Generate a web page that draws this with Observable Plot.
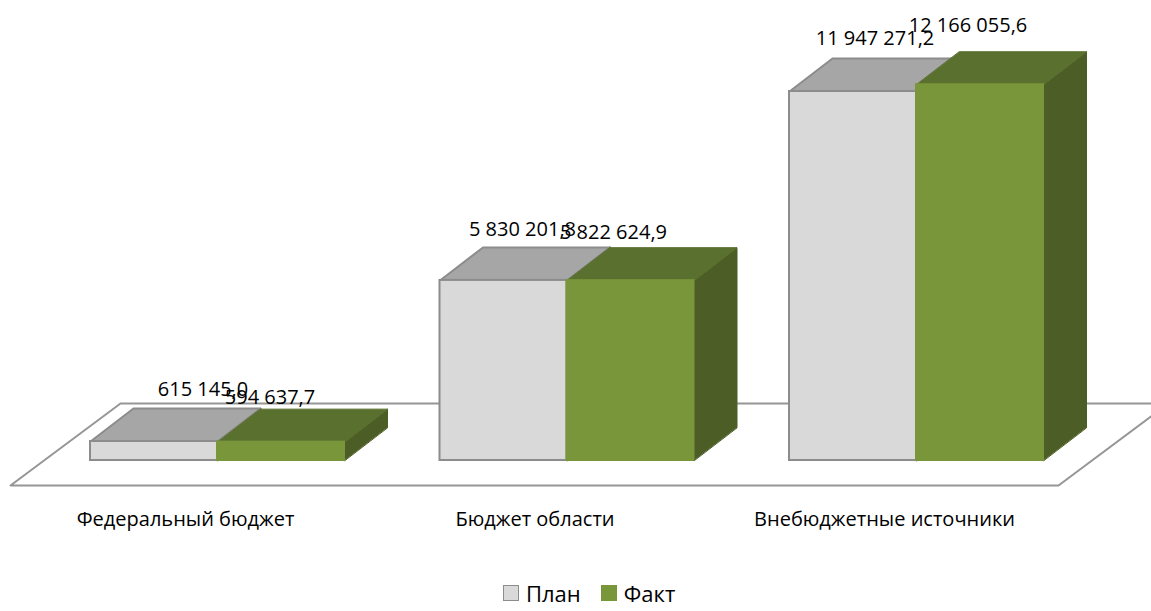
<!DOCTYPE html>
<html lang="ru">
<head>
<meta charset="utf-8">
<style>
html,body{margin:0;padding:0;background:#fff;overflow:hidden}
#chart svg{display:block}
#legend{height:36px;display:flex;justify-content:flex-start;align-items:center;padding-left:503px;font:22px "Open Sans",sans-serif;color:#000;box-sizing:border-box}
#legend span.sw{display:inline-block;width:14px;height:14px;margin-right:7px;box-sizing:content-box}
#legend .it{display:flex;align-items:center;margin-right:20px}
text{font-family:"Open Sans",sans-serif}
</style>
</head>
<body>
<div id="chart"></div>
<div id="legend"></div>
<script src="https://cdn.jsdelivr.net/npm/d3@7"></script>
<script src="https://cdn.jsdelivr.net/npm/@observablehq/plot@0.6"></script>
<script>
const categories = ["Федеральный бюджет", "Бюджет области", "Внебюджетные источники"];
const seriesNames = ["План", "Факт"];
const plan = [615145.0, 5830201.8, 11947271.2];
const fact = [594637.7, 5822624.9, 12166055.6];
const planLabels = ["615 145,0", "5 830 201,8", "11 947 271,2"];
const factLabels = ["594 637,7", "5 822 624,9", "12 166 055,6"];

// layout (x in category units, y in value units)
const W = 1151, H = 575;
const pxPerValue = 3.0886e-5, pxPerSlot = 349.5, x0Px = 217, y0Px = 460;
const barW = 127 / pxPerSlot, depthX = 43 / pxPerSlot, depthY = 33 / pxPerValue;
const px = p => (p - x0Px) / pxPerSlot;
const py = p => (y0Px - p) / pxPerValue;

const styles = [
  {front: "#d9d9d9", top: "#a6a6a6", side: "#8f8f8f", stroke: "#8c8c8c"},
  {front: "#7a963a", top: "#5a702e", side: "#4c5e26", stroke: "#7a963a"}
];
const labelDy = [[-52, -51, -53], [-45, -48, -59]];
const labelDx = [[49, 19, 22], [-11, -17, -12]];

function bars(values, s) {
  const items = values.map((v, i) => ({
    x1: i + (s === 0 ? -barW : 0), x2: i + (s === 0 ? 0 : barW), v, i
  }));
  const top = items.flatMap(d => [
    {x: d.x1, y: d.v, z: d.i}, {x: d.x2, y: d.v, z: d.i},
    {x: d.x2 + depthX, y: d.v + depthY, z: d.i}, {x: d.x1 + depthX, y: d.v + depthY, z: d.i}
  ]);
  const side = items.flatMap(d => [
    {x: d.x2, y: 0, z: d.i}, {x: d.x2, y: d.v, z: d.i},
    {x: d.x2 + depthX, y: d.v + depthY, z: d.i}, {x: d.x2 + depthX, y: depthY, z: d.i}
  ]);
  const st = styles[s];
  const common = {x: "x", y: "y", z: "z", curve: "linear-closed"};
  return [
    Plot.line(side, {...common, fill: st.side, stroke: s === 0 ? st.stroke : st.side, strokeWidth: s === 0 ? 2 : 1}),
    Plot.line(top, {...common, fill: st.top, stroke: s === 0 ? "#8c8c8c" : st.top, strokeWidth: s === 0 ? 2 : 1}),
    Plot.rect(items, {x1: "x1", x2: "x2", y1: 0, y2: "v", fill: st.front, stroke: st.stroke, strokeWidth: 2})
  ];
}

const floor = [
  {x: px(10), y: py(485)}, {x: px(1058), y: py(485)},
  {x: px(1168), y: py(403)}, {x: px(120), y: py(403)}
];

const labelRows = s => (s === 0 ? plan : fact).map((v, i) => ({
  i, v, text: (s === 0 ? planLabels : factLabels)[i],
  x: i + (s === 0 ? -barW / 2 : barW / 2) + labelDx[s][i] / pxPerSlot,
  y: v + (-labelDy[s][i]) / pxPerValue
}));

const fs = 20;
const chart = Plot.plot({
  width: W, height: H,
  marginTop: 0, marginBottom: 0, marginLeft: 0, marginRight: 0,
  x: {domain: [px(0), px(W)], range: [0, W], axis: null},
  y: {domain: [py(H), py(0)], range: [H, 0], axis: null},
  marks: [
    Plot.line(floor, {x: "x", y: "y", curve: "linear-closed", fill: "#fff", stroke: "#969696", strokeWidth: 2, clip: "frame"}),
    ...bars(plan, 0),
    ...bars(fact, 1),
    ...[0, 1].map(s => Plot.text(labelRows(s), {
      x: "x", y: "y", text: "text", fontSize: fs, fill: "#000", textAnchor: "middle", lineAnchor: "middle"
    })),
    Plot.text(categories, {
      x: (d, i) => i - 32 / pxPerSlot, y: () => 0, dy: 59, text: d => d,
      fontSize: fs, fill: "#000", textAnchor: "middle", lineAnchor: "middle"
    })
  ]
});
document.getElementById("chart").append(chart);

const legend = d3.select("#legend");
seriesNames.forEach((n, s) => {
  const it = legend.append("div").attr("class", "it");
  it.append("span").attr("class", "sw")
    .style("background", styles[s].front)
    .style("border", `1.5px solid ${styles[s].stroke}`);
  it.append("span").text(n);
});
</script>
</body>
</html>
